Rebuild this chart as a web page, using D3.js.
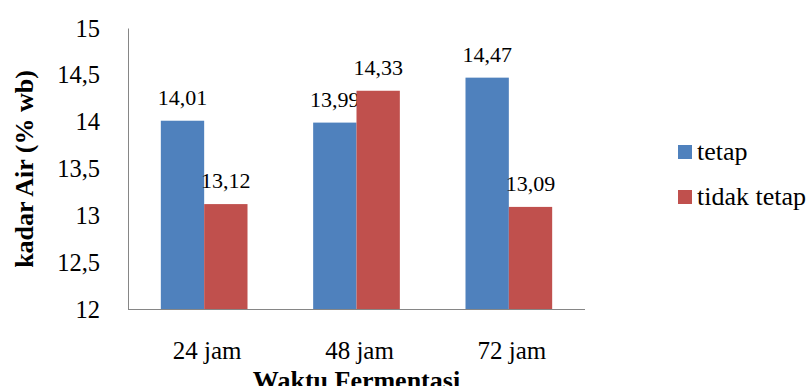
<!DOCTYPE html>
<html><head><meta charset="utf-8">
<script src="https://cdn.jsdelivr.net/npm/d3@7"></script>
<style>body{margin:0;background:#fff}</style>
</head><body><svg id="c" width="811" height="386"></svg>
<script>
const categories = ["24 jam","48 jam","72 jam"];
const seriesNames = ["tetap","tidak tetap"];
const tetap = [14.01,13.99,14.47];
const tidakTetap = [13.12,14.33,13.09];
const yTicks = [12,12.5,13,13.5,14,14.5,15];
const colors = ["#4F81BD","#C0504D"];
const FONT = '"Liberation Serif","Times New Roman",serif';

const svg = d3.select("#c");
const x0 = 128, x1 = 585, yTop = 28, yBot = 309;
const x = d3.scaleBand().domain(categories).range([x0,x1]).paddingInner(0.431).paddingOuter(0.2155);
const xs = d3.scaleBand().domain(seriesNames).range([0,x.bandwidth()]);
const y = d3.scaleLinear().domain([12,15]).range([yBot,yTop]);
const fmt = v => String(v).replace(".",",");

const data = categories.map((c,i)=>({c, vals:[tetap[i],tidakTetap[i]]}));
const g = svg.append("g");
data.forEach(d=>{
  d.vals.forEach((v,j)=>{
    const bx = x(d.c)+xs(seriesNames[j]);
    g.append("rect").attr("x",bx).attr("y",y(v)).attr("width",xs.bandwidth()).attr("height",yBot-y(v)).attr("fill",colors[j]);
    g.append("text").attr("x",bx+xs.bandwidth()/2).attr("y",y(v)-16).attr("text-anchor","middle")
      .style("font-family",FONT).style("font-size","22px").attr("fill","#000").text(fmt(v));
  });
});

// axes
const yAxis = d3.axisLeft(y).tickValues(yTicks).tickSize(0).tickPadding(28).tickFormat(fmt);
const ya = svg.append("g").attr("transform",`translate(${x0},0)`).call(yAxis);
ya.select(".domain").attr("stroke","#868686");
ya.selectAll("text").style("font-size","24.5px").style("font-family",FONT).attr("fill","#000").attr("dy","0.33em");
const xAxis = d3.axisBottom(x).tickSize(0).tickPadding(0);
const xa = svg.append("g").attr("transform",`translate(0,${yBot})`).call(xAxis);
xa.select(".domain").attr("stroke","#868686").attr("d",`M${x0},0.5H${x1}`);
xa.selectAll("text").attr("y",50).attr("dy",null).attr("dx",3).style("font-size","25px").style("font-family",FONT).attr("fill","#000");

svg.append("text").attr("x",(x0+x1)/2).attr("y",389).attr("text-anchor","middle")
  .style("font-family",FONT).style("font-size","26px").style("font-weight","bold").text("Waktu Fermentasi");
svg.append("text").attr("transform","translate(33,169) rotate(-90)").attr("text-anchor","middle")
  .style("font-family",FONT).style("font-size","26px").style("font-weight","bold").text("kadar Air (% wb)");

// legend
seriesNames.forEach((s,i)=>{
  const by = 160 + i*45;
  svg.append("rect").attr("x",678).attr("y",by-15).attr("width",14).attr("height",14).attr("fill",colors[i]);
  svg.append("text").attr("x",697).attr("y",by).attr("fill","#000").style("font-family",FONT).style("font-size","26px").text(s);
});
</script></body></html>
